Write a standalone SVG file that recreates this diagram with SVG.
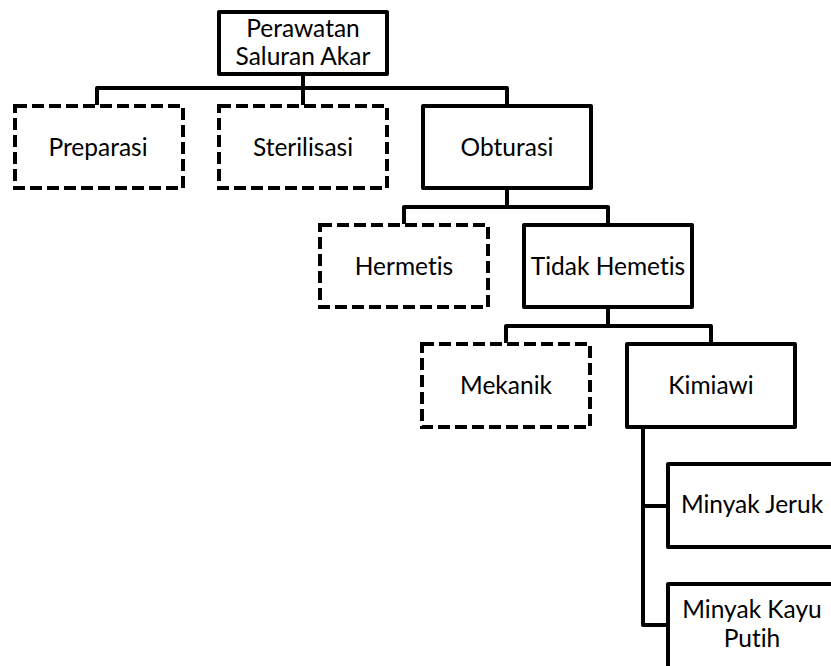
<svg xmlns="http://www.w3.org/2000/svg" width="831" height="666" viewBox="0 0 831 666">
<style>
.box{fill:#fff;stroke:#000;stroke-width:4;stroke-linejoin:round}
.dash{fill:#fff;stroke:#000;stroke-width:4;stroke-dasharray:12 5}
.lbl{font-family:Lato,"Liberation Sans",sans-serif;font-size:24.5px;fill:#000;text-anchor:middle;font-variant-ligatures:none}
.conn{fill:none;stroke:#000;stroke-width:4;stroke-linejoin:round}
</style>
<rect width="831" height="666" fill="#fff"/>
<g id="connectors">
<path class="conn" d="M303 73V105M97 105V88H507V105"/>
<path class="conn" d="M507 188V207M404 224V207H608V224"/>
<path class="conn" d="M608 308V326M506 343V326H711V343"/>
<path class="conn" d="M643 428V625H667M643 506H667"/>
</g>
<g id="root"><rect class="box" x="219" y="12" width="168" height="62"/><text class="lbl" x="303" y="37">Perawatan</text><text class="lbl" x="303" y="65">Saluran Akar</text></g>
<g id="preparasi"><rect class="dash" x="15" y="106" width="168" height="82"/><text class="lbl" x="98" y="156">Preparasi</text></g>
<g id="sterilisasi"><rect class="dash" x="219" y="106" width="168" height="82"/><text class="lbl" x="303" y="156">Sterilisasi</text></g>
<g id="obturasi"><rect class="box" x="423" y="106" width="168" height="82"/><text class="lbl" x="507" y="156">Obturasi</text></g>
<g id="hermetis"><rect class="dash" x="320" y="225" width="168" height="82"/><text class="lbl" x="404" y="275">Hermetis</text></g>
<g id="tidak-hemetis"><rect class="box" x="524" y="225" width="168" height="82"/><text class="lbl" x="608" y="275">Tidak Hemetis</text></g>
<g id="mekanik"><rect class="dash" x="422" y="344" width="168" height="83"/><text class="lbl" x="506" y="394">Mekanik</text></g>
<g id="kimiawi"><rect class="box" x="627" y="344" width="168" height="83"/><text class="lbl" x="711" y="394">Kimiawi</text></g>
<g id="minyak-jeruk"><rect class="box" x="668" y="464" width="170" height="83"/><text class="lbl" x="752" y="513">Minyak Jeruk</text></g>
<g id="minyak-kayu-putih"><rect class="box" x="668" y="584" width="170" height="90"/><text class="lbl" x="752" y="618">Minyak Kayu</text><text class="lbl" x="752" y="647">Putih</text></g>
</svg>
